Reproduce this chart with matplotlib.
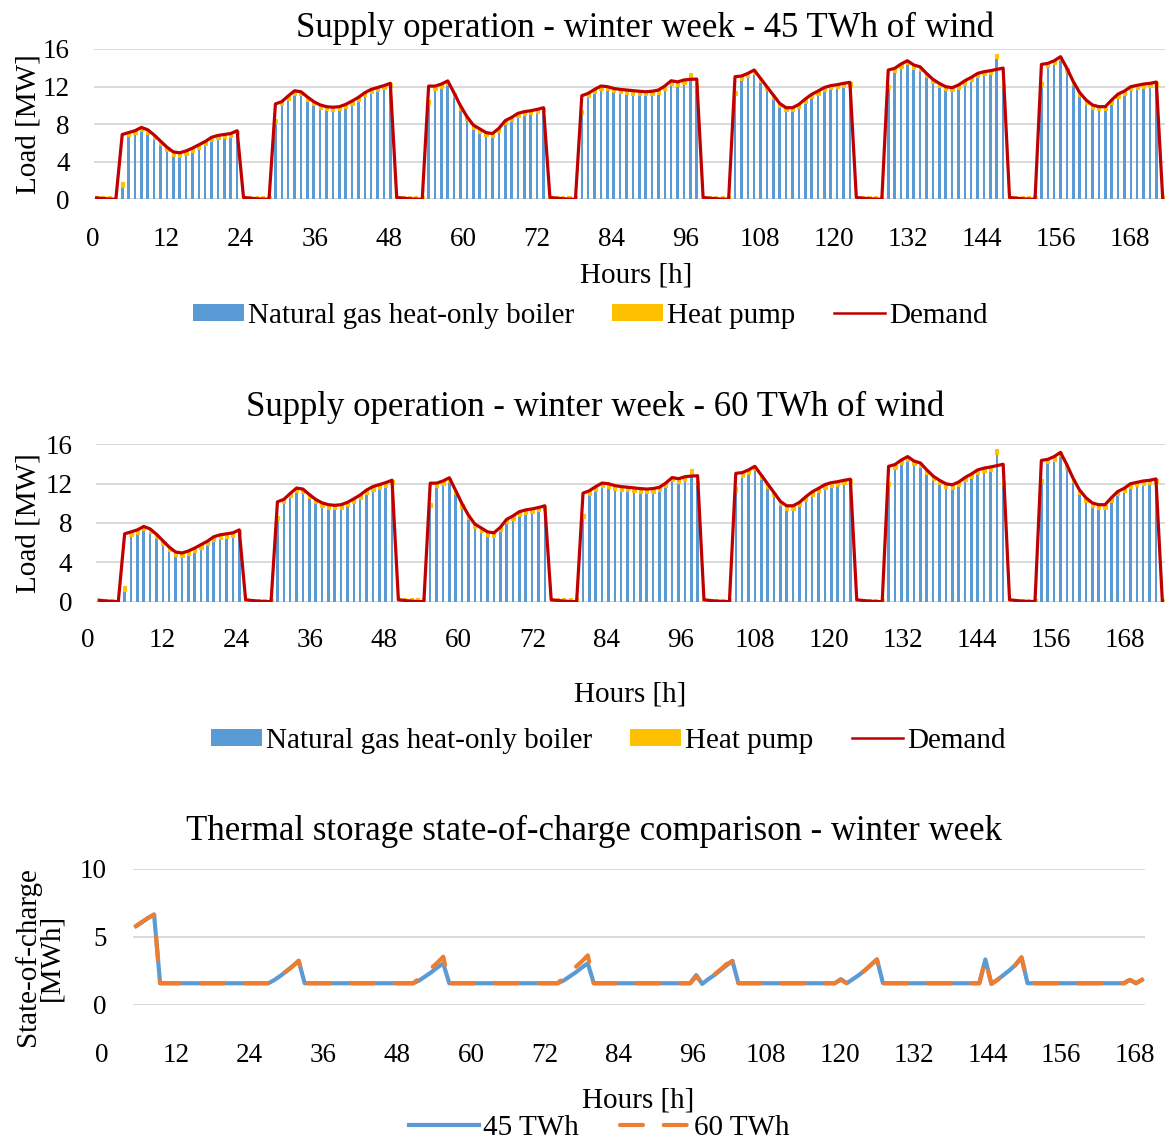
import matplotlib
matplotlib.use('Agg')
import matplotlib.pyplot as plt
from matplotlib.patches import Patch
from matplotlib.lines import Line2D
import numpy as np

plt.rcParams['font.family'] = ['Liberation Serif', 'DejaVu Serif']

# --- data (hourly, one row per day) -----------------------------
hours = np.arange(1, 169)
hour_ticks = list(range(0, 169, 12))

demand = [
    0.15, 0.08, 0.03, 0.0, 6.9, 7.1, 7.3, 7.65, 7.4, 6.85, 6.2, 5.55, 5.05, 4.95, 5.15, 5.45, 5.8, 6.15, 6.6, 6.8, 6.9, 7.0, 7.3, 0.2,
    0.12, 0.06, 0.02, 0.0, 10.15, 10.4, 11.0, 11.55, 11.45, 10.9, 10.4, 10.05, 9.86, 9.8, 9.86, 10.1, 10.46, 10.85, 11.35, 11.7, 11.9, 12.1, 12.35, 0.2,
    0.12, 0.06, 0.02, 0.0, 12.05, 12.05, 12.27, 12.6, 11.3, 9.95, 8.8, 7.9, 7.5, 7.1, 7.0, 7.55, 8.37, 8.72, 9.15, 9.33, 9.43, 9.57, 9.75, 0.2,
    0.12, 0.06, 0.02, 0.0, 11.03, 11.28, 11.7, 12.06, 11.99, 11.8, 11.7, 11.63, 11.55, 11.5, 11.45, 11.5, 11.63, 12.06, 12.62, 12.5, 12.7, 12.77, 12.8, 0.2,
    0.12, 0.06, 0.02, 0.0, 13.05, 13.12, 13.4, 13.76, 12.87, 11.99, 11.1, 10.2, 9.75, 9.75, 10.1, 10.67, 11.17, 11.52, 11.9, 12.1, 12.2, 12.34, 12.45, 0.2,
    0.12, 0.06, 0.02, 0.0, 13.76, 13.94, 14.4, 14.75, 14.3, 14.1, 13.4, 12.77, 12.34, 11.99, 11.88, 12.16, 12.62, 12.98, 13.4, 13.58, 13.69, 13.83, 13.97, 0.2,
    0.12, 0.06, 0.02, 0.0, 14.36, 14.47, 14.75, 15.18, 13.94, 12.52, 11.35, 10.57, 10.04, 9.86, 9.86, 10.57, 11.2, 11.52, 11.99, 12.13, 12.27, 12.34, 12.48, 0.1,
]

boiler_45 = [
    0, 0, 0, 0, 1.3, 6.7, 6.9, 7.25, 7.0, 6.45, 5.8, 5.15, 4.65, 4.55, 4.75, 5.05, 5.4, 5.75, 6.2, 6.4, 6.5, 6.6, 6.9, 0,
    0, 0, 0, 0, 8.1, 10.0, 10.6, 11.15, 11.05, 10.5, 10.0, 9.65, 9.46, 9.4, 9.46, 9.7, 10.06, 10.45, 10.95, 11.3, 11.5, 11.7, 11.95, 0,
    0, 0, 0, 0, 10.1, 11.65, 11.87, 12.2, 10.9, 9.55, 8.4, 7.5, 7.1, 6.7, 6.6, 7.15, 7.97, 8.32, 8.75, 8.93, 9.03, 9.17, 9.35, 0,
    0, 0, 0, 0, 9.1, 10.88, 11.3, 11.66, 11.59, 11.4, 11.3, 11.23, 11.15, 11.1, 11.05, 11.1, 11.23, 11.66, 12.22, 12.1, 12.3, 13.0, 11.9, 0,
    0, 0, 0, 0, 11.1, 12.72, 13.0, 13.36, 12.47, 11.59, 10.7, 9.8, 9.35, 9.35, 9.7, 10.27, 10.77, 11.12, 11.5, 11.7, 11.8, 11.94, 12.05, 0,
    0, 0, 0, 0, 11.8, 13.54, 14.0, 14.35, 13.9, 13.7, 13.0, 12.37, 11.94, 11.59, 11.48, 11.76, 12.22, 12.58, 13.0, 13.18, 13.29, 15.0, 11.8, 0,
    0, 0, 0, 0, 12.1, 14.07, 14.35, 14.78, 13.54, 12.12, 10.95, 10.17, 9.64, 9.46, 9.46, 10.17, 10.8, 11.12, 11.59, 11.73, 11.87, 11.94, 12.08, 0,
]

heat_pump_45 = [
    0.3, 0.3, 0.3, 0.0, 0.5, 0.4, 0.4, 0.4, 0.4, 0.4, 0.4, 0.4, 0.4, 0.4, 0.4, 0.4, 0.4, 0.4, 0.4, 0.4, 0.4, 0.4, 0.4, 0.2,
    0.3, 0.3, 0.3, 0.3, 0.45, 0.4, 0.4, 0.4, 0.4, 0.4, 0.4, 0.4, 0.4, 0.4, 0.4, 0.4, 0.4, 0.4, 0.4, 0.4, 0.4, 0.4, 0.4, 0.2,
    0.3, 0.3, 0.3, 0.3, 0.45, 0.4, 0.4, 0.4, 0.4, 0.4, 0.4, 0.4, 0.4, 0.4, 0.4, 0.4, 0.4, 0.4, 0.4, 0.4, 0.4, 0.4, 0.4, 0.2,
    0.3, 0.3, 0.3, 0.3, 0.45, 0.4, 0.4, 0.4, 0.4, 0.4, 0.4, 0.4, 0.4, 0.4, 0.4, 0.4, 0.4, 0.4, 0.4, 0.4, 0.4, 0.45, 0.4, 0.2,
    0.3, 0.3, 0.3, 0.3, 0.45, 0.4, 0.4, 0.4, 0.4, 0.4, 0.4, 0.4, 0.4, 0.4, 0.4, 0.4, 0.4, 0.4, 0.4, 0.4, 0.4, 0.4, 0.4, 0.2,
    0.3, 0.3, 0.3, 0.3, 0.4, 0.4, 0.4, 0.4, 0.4, 0.4, 0.4, 0.4, 0.4, 0.4, 0.4, 0.4, 0.4, 0.4, 0.4, 0.4, 0.4, 0.5, 0.45, 0.2,
    0.3, 0.3, 0.3, 0.3, 0.4, 0.4, 0.4, 0.4, 0.4, 0.4, 0.4, 0.4, 0.4, 0.4, 0.4, 0.4, 0.4, 0.4, 0.4, 0.4, 0.4, 0.4, 0.4, 0.3,
]

boiler_60 = [
    0, 0, 0, 0, 1.1, 6.7, 6.9, 7.25, 7.0, 6.45, 5.8, 5.15, 4.65, 4.55, 4.75, 5.05, 5.4, 5.75, 6.2, 6.4, 6.5, 6.6, 6.9, 0,
    0, 0, 0, 0, 8.3, 10.0, 10.6, 11.15, 11.05, 10.5, 10.0, 9.65, 9.46, 9.4, 9.46, 9.7, 10.06, 10.45, 10.95, 11.3, 11.5, 11.7, 11.95, 0,
    0, 0, 0, 0, 9.6, 11.65, 11.87, 12.2, 10.9, 9.55, 8.4, 7.5, 7.1, 6.7, 6.6, 7.15, 7.97, 8.32, 8.75, 8.93, 9.03, 9.17, 9.35, 0,
    0, 0, 0, 0, 8.5, 10.88, 11.3, 11.66, 11.59, 11.4, 11.3, 11.23, 11.15, 11.1, 11.05, 11.1, 11.23, 11.66, 12.22, 12.1, 12.3, 13.0, 11.9, 0,
    0, 0, 0, 0, 11.2, 12.72, 13.0, 13.36, 12.47, 11.59, 10.7, 9.8, 9.35, 9.35, 9.7, 10.27, 10.77, 11.12, 11.5, 11.7, 11.8, 11.94, 12.05, 0,
    0, 0, 0, 0, 11.8, 13.54, 14.0, 14.35, 13.9, 13.7, 13.0, 12.37, 11.94, 11.59, 11.48, 11.76, 12.22, 12.58, 13.0, 13.18, 13.29, 15.0, 11.8, 0,
    0, 0, 0, 0, 12.1, 14.07, 14.35, 14.78, 13.54, 12.12, 10.95, 10.17, 9.64, 9.46, 9.46, 10.17, 10.8, 11.12, 11.59, 11.73, 11.87, 11.94, 12.08, 0,
]

heat_pump_60 = [
    0.3, 0.3, 0.3, 0.0, 0.5, 0.4, 0.4, 0.4, 0.4, 0.4, 0.4, 0.4, 0.4, 0.4, 0.4, 0.4, 0.4, 0.4, 0.4, 0.4, 0.4, 0.4, 0.4, 0.2,
    0.3, 0.3, 0.3, 0.3, 0.45, 0.4, 0.4, 0.4, 0.4, 0.4, 0.4, 0.4, 0.4, 0.4, 0.4, 0.4, 0.4, 0.4, 0.4, 0.4, 0.4, 0.4, 0.4, 0.35,
    0.4, 0.4, 0.4, 0.4, 0.45, 0.4, 0.4, 0.4, 0.4, 0.4, 0.4, 0.4, 0.4, 0.4, 0.4, 0.4, 0.4, 0.4, 0.4, 0.4, 0.4, 0.4, 0.4, 0.35,
    0.4, 0.4, 0.4, 0.4, 0.45, 0.4, 0.4, 0.4, 0.4, 0.4, 0.4, 0.4, 0.4, 0.4, 0.4, 0.4, 0.4, 0.4, 0.4, 0.4, 0.4, 0.45, 0.4, 0.2,
    0.3, 0.3, 0.3, 0.3, 0.45, 0.4, 0.4, 0.4, 0.4, 0.4, 0.4, 0.4, 0.4, 0.4, 0.4, 0.4, 0.4, 0.4, 0.4, 0.4, 0.4, 0.4, 0.4, 0.2,
    0.3, 0.3, 0.3, 0.3, 0.4, 0.4, 0.4, 0.4, 0.4, 0.4, 0.4, 0.4, 0.4, 0.4, 0.4, 0.4, 0.4, 0.4, 0.4, 0.4, 0.4, 0.5, 0.45, 0.2,
    0.3, 0.3, 0.3, 0.3, 0.4, 0.4, 0.4, 0.4, 0.4, 0.4, 0.4, 0.4, 0.4, 0.4, 0.4, 0.4, 0.4, 0.4, 0.4, 0.4, 0.4, 0.4, 0.4, 0.3,
]

soc_45 = [
    5.8, 6.1, 6.4, 6.65, 1.6, 1.6, 1.6, 1.6, 1.6, 1.6, 1.6, 1.6, 1.6, 1.6, 1.6, 1.6, 1.6, 1.6, 1.6, 1.6, 1.6, 1.6, 1.6, 1.85,
    2.15, 2.5, 2.85, 3.25, 1.6, 1.6, 1.6, 1.6, 1.6, 1.6, 1.6, 1.6, 1.6, 1.6, 1.6, 1.6, 1.6, 1.6, 1.6, 1.6, 1.6, 1.6, 1.6, 1.8,
    2.1, 2.4, 2.75, 3.06, 1.6, 1.6, 1.6, 1.6, 1.6, 1.6, 1.6, 1.6, 1.6, 1.6, 1.6, 1.6, 1.6, 1.6, 1.6, 1.6, 1.6, 1.6, 1.6, 1.8,
    2.1, 2.4, 2.75, 3.06, 1.6, 1.6, 1.6, 1.6, 1.6, 1.6, 1.6, 1.6, 1.6, 1.6, 1.6, 1.6, 1.6, 1.6, 1.6, 1.6, 1.6, 2.2, 1.55, 1.9,
    2.2, 2.55, 2.9, 3.25, 1.6, 1.6, 1.6, 1.6, 1.6, 1.6, 1.6, 1.6, 1.6, 1.6, 1.6, 1.6, 1.6, 1.6, 1.6, 1.6, 1.6, 1.9, 1.6, 1.9,
    2.2, 2.55, 2.95, 3.35, 1.6, 1.6, 1.6, 1.6, 1.6, 1.6, 1.6, 1.6, 1.6, 1.6, 1.6, 1.6, 1.6, 1.6, 1.6, 1.6, 1.6, 3.35, 1.55, 1.85,
    2.2, 2.55, 2.95, 3.5, 1.6, 1.6, 1.6, 1.6, 1.6, 1.6, 1.6, 1.6, 1.6, 1.6, 1.6, 1.6, 1.6, 1.6, 1.6, 1.6, 1.6, 1.85, 1.6, 1.85,
]

soc_60 = [
    5.8, 6.1, 6.4, 6.65, 1.6, 1.6, 1.6, 1.6, 1.6, 1.6, 1.6, 1.6, 1.6, 1.6, 1.6, 1.6, 1.6, 1.6, 1.6, 1.6, 1.6, 1.6, 1.6, 1.85,
    2.15, 2.5, 2.85, 3.25, 1.6, 1.6, 1.6, 1.6, 1.6, 1.6, 1.6, 1.6, 1.6, 1.6, 1.6, 1.6, 1.6, 1.6, 1.6, 1.6, 1.6, 1.6, 1.6, 1.95,
    2.3, 2.7, 3.1, 3.55, 1.6, 1.6, 1.6, 1.6, 1.6, 1.6, 1.6, 1.6, 1.6, 1.6, 1.6, 1.6, 1.6, 1.6, 1.6, 1.6, 1.6, 1.6, 1.6, 2.0,
    2.4, 2.8, 3.2, 3.65, 1.6, 1.6, 1.6, 1.6, 1.6, 1.6, 1.6, 1.6, 1.6, 1.6, 1.6, 1.6, 1.6, 1.6, 1.6, 1.6, 1.6, 2.1, 1.6, 1.9,
    2.25, 2.6, 3.0, 3.2, 1.6, 1.6, 1.6, 1.6, 1.6, 1.6, 1.6, 1.6, 1.6, 1.6, 1.6, 1.6, 1.6, 1.6, 1.6, 1.6, 1.6, 1.85, 1.6, 1.9,
    2.2, 2.55, 2.95, 3.35, 1.6, 1.6, 1.6, 1.6, 1.6, 1.6, 1.6, 1.6, 1.6, 1.6, 1.6, 1.6, 1.6, 1.6, 1.6, 1.6, 1.6, 3.35, 1.55, 1.85,
    2.2, 2.55, 2.95, 3.5, 1.6, 1.6, 1.6, 1.6, 1.6, 1.6, 1.6, 1.6, 1.6, 1.6, 1.6, 1.6, 1.6, 1.6, 1.6, 1.6, 1.6, 1.85, 1.6, 1.85,
]

BLUE = '#5B9BD5'
YELLOW = '#FFC000'
RED = '#C00000'
ORANGE = '#ED7D31'
GRID = '#D9D9D9'

W, H = 1165, 1139
fig = plt.figure(figsize=(W / 100, H / 100), dpi=100)


def box(l, t, r, b):
    return [l / W, 1 - b / H, (r - l) / W, (b - t) / H]


def clean(ax, yticks, ypad):
    for s in ax.spines.values():
        s.set_visible(False)
    ax.set_yticks(yticks)
    ax.yaxis.grid(True, color=GRID, lw=1.4)
    ax.set_axisbelow(True)
    ax.set_xticks([])
    ax.tick_params(axis='y', length=0, pad=ypad, labelsize=19.5)


def hour_labels(l, r, y, pad):
    lab = fig.add_axes([l / W, 1 - y / H, (r - l) / W, 1e-6])
    lab.set_xlim(0, 168)
    lab.set_xticks(hour_ticks)
    lab.set_yticks([])
    for s in lab.spines.values():
        s.set_visible(False)
    lab.patch.set_visible(False)
    lab.tick_params(axis='x', length=0, pad=pad, labelsize=19.5)


def supply(rect, boiler, hp, title, tpos, lab_lr, lab_pad, xl_pos, leg_pos):
    ax = fig.add_axes(box(*rect))
    ax.bar(hours, boiler, width=0.4, color=BLUE, zorder=2)
    ax.bar(hours, hp, bottom=boiler, width=0.5, color=YELLOW,
           edgecolor=YELLOW, lw=0.8, zorder=2)
    ax.plot(hours, demand, color=RED, lw=2.3, solid_joinstyle='round', zorder=3)
    ax.set_xlim(0.5, 168.5)
    ax.set_ylim(0, 16)
    clean(ax, [0, 4, 8, 12, 16], 17)
    hour_labels(lab_lr[0], lab_lr[1], rect[3], lab_pad)
    fig.text(tpos[0] / W, 1 - tpos[1] / H, title, ha='center', va='center', fontsize=25)
    fig.text(28 / W, 1 - (rect[1] + rect[3]) / 2 / H, 'Load [MW]', rotation=90,
             ha='center', va='center', fontsize=21)
    fig.text(xl_pos[0] / W, 1 - xl_pos[1] / H, 'Hours [h]', ha='center', va='center', fontsize=21)
    handles = [Patch(facecolor=BLUE), Patch(facecolor=YELLOW), Line2D([0], [0], color=RED, lw=1.8)]
    fig.legend(handles, ['Natural gas heat-only boiler', 'Heat pump', 'Demand'],
               loc='center', bbox_to_anchor=(leg_pos[0] / W, 1 - leg_pos[1] / H), ncol=3,
               frameon=False, fontsize=21, handlelength=1.75, handleheight=0.55,
               handletextpad=0.15, columnspacing=1.3, borderpad=0)
    return ax


supply((93.5, 49, 1165.9, 199.3), boiler_45, heat_pump_45,
       'Supply operation - winter week - 45 TWh of wind', (645, 28),
       (92.5, 1130), 20, (636, 275), (590, 316))
supply((96, 444.3, 1165.5, 601.7), boiler_60, heat_pump_60,
       'Supply operation - winter week - 60 TWh of wind', (595, 407),
       (88, 1125), 19, (630, 695), (608, 741))

# --- storage panel ----------------------------------------------
ax3 = fig.add_axes(box(133, 869, 1145, 1005))
ax3.plot(hours, soc_45, color=BLUE, lw=3.0, solid_joinstyle='round', zorder=3)
ax3.plot(hours, soc_60, color=ORANGE, lw=3.0, dashes=(5.5, 5),
         dash_capstyle='round', solid_joinstyle='round', zorder=4)
ax3.set_xlim(0.5, 168.5)
ax3.set_ylim(0, 10)
clean(ax3, [0, 5, 10], 19)
hour_labels(102, 1135, 1005, 27)
fig.text(594 / W, 1 - 831 / H, 'Thermal storage state-of-charge comparison - winter week',
         ha='center', va='center', fontsize=25)
fig.text(39 / W, 1 - 957 / H, 'State-of-charge\n[MWh]', rotation=90, ha='center',
         va='center', fontsize=21, linespacing=0.85)
fig.text(638 / W, 1 - 1100 / H, 'Hours [h]', ha='center', va='center', fontsize=21)
h3 = [Line2D([0], [0], color=BLUE, lw=3.0),
      Line2D([0], [0], color=ORANGE, lw=3.0, dashes=(5.5, 5), dash_capstyle='round')]
fig.legend(h3, ['45 TWh', '60 TWh'], loc='center', bbox_to_anchor=(599 / W, 1 - 1128 / H),
           ncol=2, frameon=False, fontsize=21, handlelength=2.4, handletextpad=0.15,
           columnspacing=1.4, borderpad=0)

fig.savefig('out.png', dpi=100)
